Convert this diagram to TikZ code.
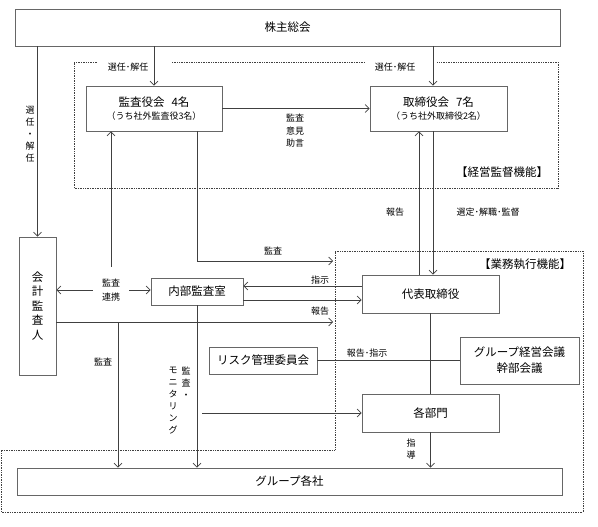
\documentclass[tikz,border=0pt]{standalone}
\usepackage{fontspec}
\setmainfont{Noto Sans CJK JP}
\usetikzlibrary{arrows.meta}
\begin{document}
\begin{tikzpicture}[
    x=1pt, y=-1pt,
    >={Straight Barb[length=4pt,width=8pt]},
    box/.style={draw=black!60, line width=0.8pt, align=center, inner sep=0pt, font=\fontsize{11.5}{14}\selectfont},
    lbl/.style={align=center, inner sep=1pt, font=\fontsize{9}{12}\selectfont},
    conn/.style={draw=black!75, line width=0.7pt},
    region/.style={draw=black!75, densely dotted, line width=0.7pt}
]
\useasboundingbox (0,0) rectangle (598,527);

\draw[region] (97,62) -- (74,62) -- (74,188) -- (558,188) -- (558,62) -- (437,62);
\draw[region] (172,62) -- (365,62);
\draw[region] (335,251) -- (583,251) -- (583,512) -- (1,512) -- (1,450) -- (335,450) -- cycle;

\node[box, minimum width=545pt, minimum height=37pt] (kabunushi) at (287.5,27.5) {株主総会};
\node[box, minimum width=136pt, minimum height=45pt] (kansayaku) at (154,108.5)
    {監査役会\hspace{.6em}4名\\[-1pt]{\fontsize{9}{11}\selectfont （うち社外監査役3名）}};
\node[box, minimum width=137pt, minimum height=45pt] (torishimari) at (438.5,108.5)
    {取締役会\hspace{.6em}7名\\[-1pt]{\fontsize{9}{11}\selectfont （うち社外取締役2名）}};
\node[box, minimum width=37pt, minimum height=138pt, font=\fontsize{11.5}{14.5}\selectfont] (kaikei) at (37.5,306)
    {会\\計\\監\\査\\人};
\node[box, minimum width=92pt, minimum height=27pt] (naibu) at (197,291.5) {内部監査室};
\node[box, minimum width=137pt, minimum height=38pt] (daihyo) at (430.5,294) {代表取締役};
\node[box, minimum width=108pt, minimum height=27pt] (risk) at (263,360.5) {リスク管理委員会};
\node[box, minimum width=119pt, minimum height=47pt, font=\fontsize{11.5}{16}\selectfont] (group) at (519.5,360.5)
    {グループ経営会議\\幹部会議};
\node[box, minimum width=137pt, minimum height=38pt] (kakubu) at (430.5,413) {各部門};
\node[box, minimum width=545pt, minimum height=27pt] (kakusha) at (289.5,481.5) {グループ各社};

\node[lbl] (senninL) at (30,134) {選\\任\\・\\解\\任};
\node[lbl] (senninA) at (128,67) {選任･解任};
\node[lbl] (senninB) at (395,67) {選任･解任};
\node[lbl, font=\fontsize{9}{12.5}\selectfont] (iken) at (295,131) {監査\\意見\\助言};
\node[lbl, font=\fontsize{11.5}{14}\selectfont] (kantoku) at (502,172) {【経営監督機能】};
\node[lbl] (houkokuA) at (395,212) {報告};
\node[lbl] (sentei) at (488,212) {選定･解職･監督};
\node[lbl, font=\fontsize{11.5}{14}\selectfont] (shikko) at (525,264) {【業務執行機能】};
\node[lbl] (kansaA) at (273,251) {監査};
\node[lbl] (shijiA) at (320,280) {指示};
\node[lbl] (houkokuB) at (320,311) {報告};
\node[lbl] (kansaB) at (103,362) {監査};
\node[lbl, anchor=north] (monA) at (186,366) {監\\査\\・};
\node[lbl, anchor=north] (monB) at (173,366) {モ\\ニ\\タ\\リ\\ン\\グ};
\node[lbl] (houshi) at (367,353) {報告･指示};
\node[lbl] (shido) at (411,449) {指\\導};
\node[lbl, inner xsep=9pt, inner ysep=12pt, font=\fontsize{9}{14}\selectfont] (renkei) at (111,290) {監査\\連携};

\coordinate (toriTop) at ([xshift=-5.5pt]torishimari.north);
\coordinate (toriRep) at ([xshift=-19.5pt]torishimari.south);
\coordinate (toriSel) at ([xshift=-5.5pt]torishimari.south);
\coordinate (kansaEnd) at (333,261);
\coordinate (shijiS) at ([yshift=8pt]daihyo.west);
\coordinate (naibuOut) at ([yshift=-6pt]daihyo.west);
\coordinate (kaikeiOut) at ([yshift=-16pt]kaikei.east);
\coordinate (houkokuEnd) at (333,322);
\coordinate (kaikeiJ) at (118,322);
\coordinate (monStart) at (202,413);

\draw[conn,->] (kansayaku.north |- kabunushi.south) -- (kansayaku.north);
\draw[conn,->] (toriTop |- kabunushi.south) -- (toriTop);
\draw[conn,->] (kaikei.north |- kabunushi.south) -- (kaikei.north);
\draw[conn,->] (kansayaku) -- (torishimari);
\draw[conn,->] (toriRep |- daihyo.north) -- (toriRep);
\draw[conn,->] (toriSel) -- (toriSel |- daihyo.north);
\draw[conn,->] (renkei.north) -- (renkei.north |- kansayaku.south);
\draw[conn,->] (renkei.west) -- (renkei.west -| kaikei.east);
\draw[conn,->] (renkei.east) -- (renkei.east -| naibu.west);
\draw[conn,->] (kansayaku.south -| naibu) -- (naibu |- kansaEnd) -- (kansaEnd);
\draw[conn,->] (shijiS) -- (shijiS -| naibu.east);
\draw[conn,->] (naibuOut -| naibu.east) -- (naibuOut);
\draw[conn,->] (kaikeiOut) -- (houkokuEnd);
\draw[conn,->] (kaikeiJ) -- (kaikeiJ |- kakusha.north);
\draw[conn,->] (naibu.south) -- (naibu.south |- kakusha.north);
\draw[conn,->] (monStart) -- (kakubu.west);
\draw[conn] (daihyo.south) -- (kakubu.north);
\draw[conn,->] (kakubu.south) -- (kakubu.south |- kakusha.north);
\draw[conn] (risk.east) -- (risk.east -| group.west);
\end{tikzpicture}
\end{document}
